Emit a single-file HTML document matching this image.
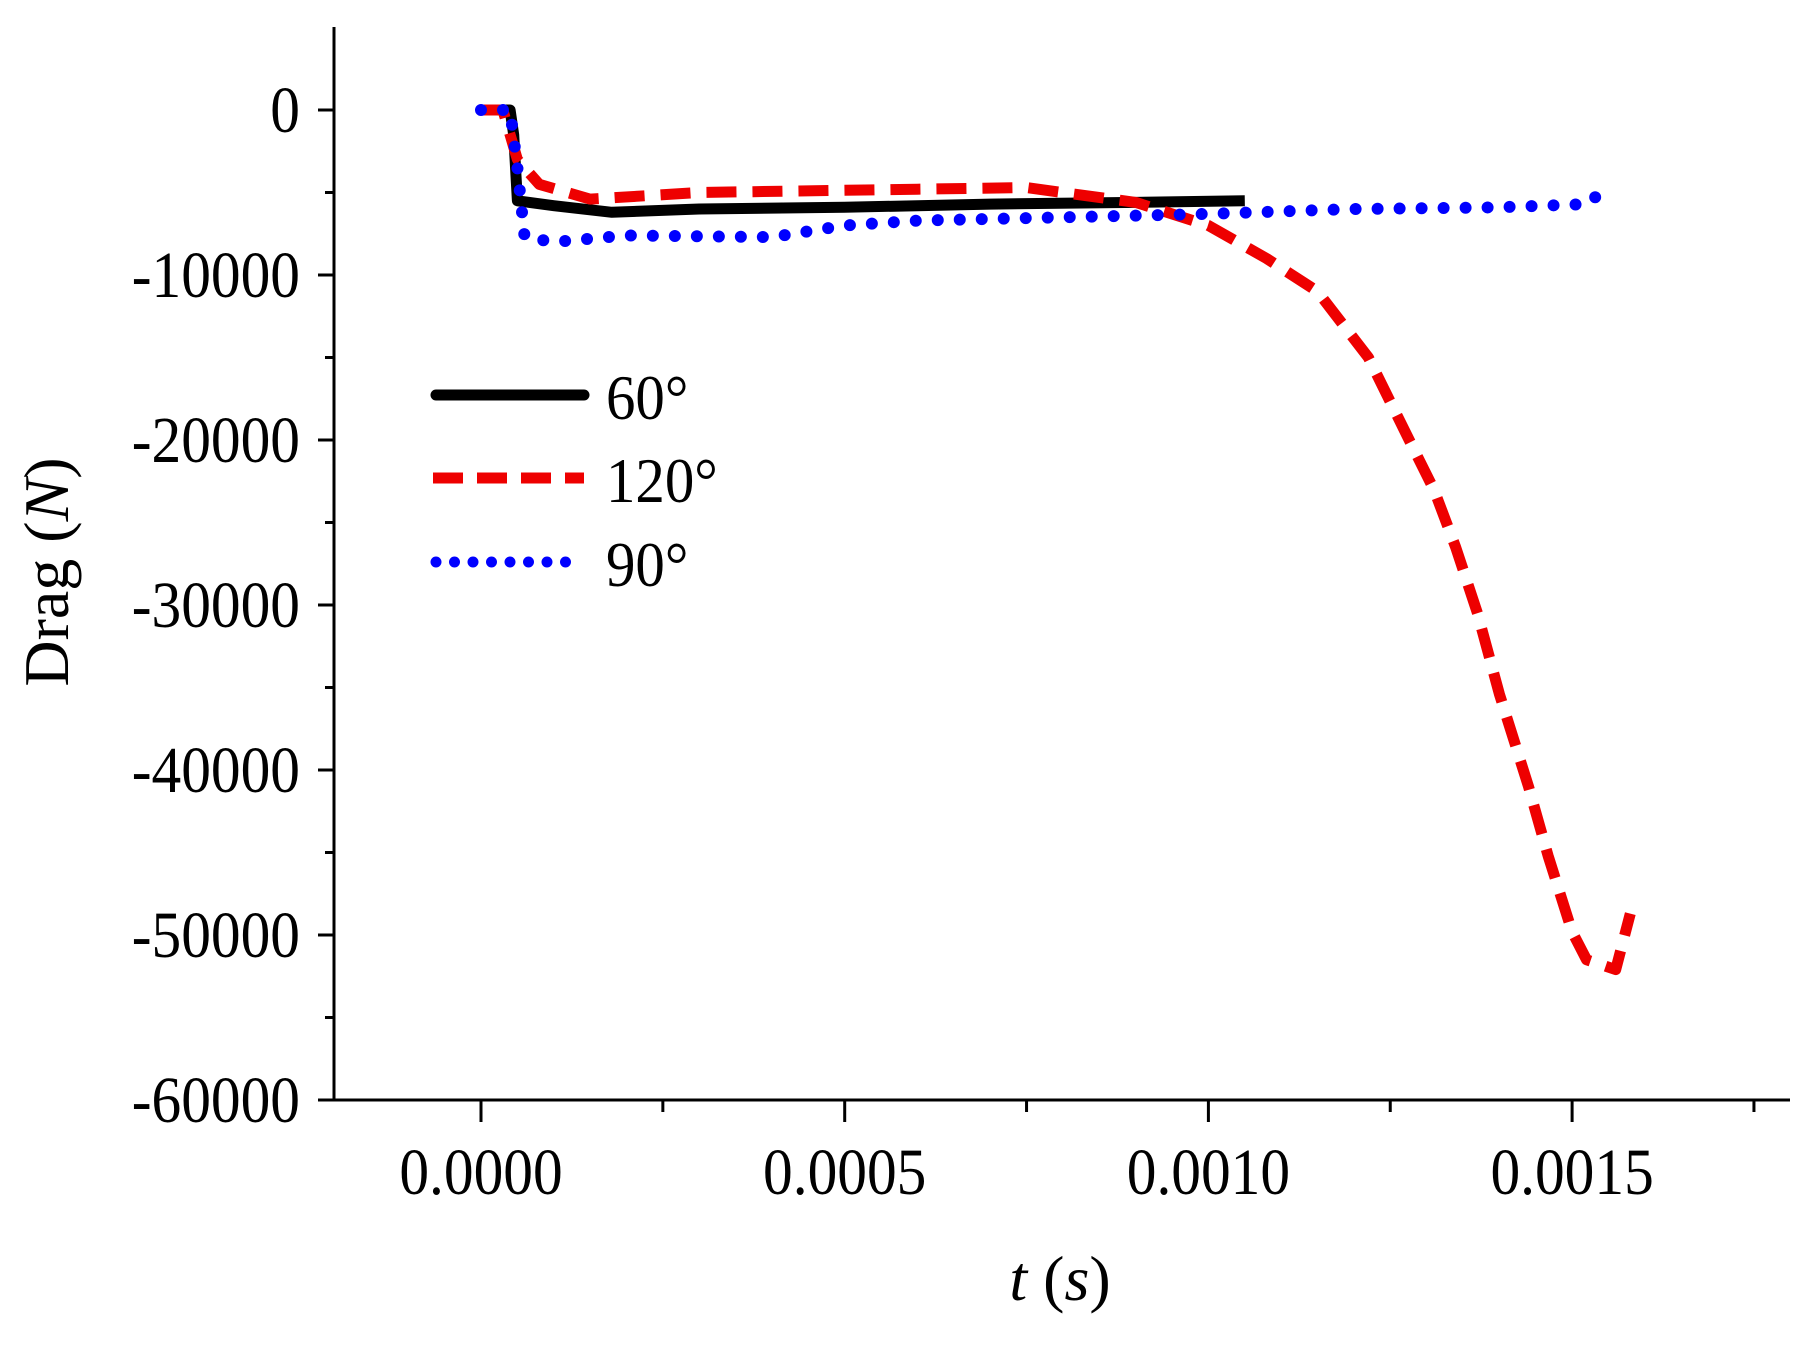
<!DOCTYPE html>
<html><head><meta charset="utf-8"><style>
html,body{margin:0;padding:0;background:#fff;}
svg{display:block;}
text{font-family:"Liberation Serif",serif;fill:#000;}
</style></head><body>
<svg id="s" width="1812" height="1353" viewBox="0 0 1812 1353" xmlns="http://www.w3.org/2000/svg">
<g stroke="#000" stroke-width="3" fill="none">
<line x1="334" y1="27" x2="334" y2="1100"/>
<line x1="318" y1="1100" x2="1790" y2="1100"/>
</g>
<g id="ticks" stroke="#000" stroke-width="3"></g>
<g id="ylab"></g>
<g id="xlab"></g>
<text x="1060" y="1300" font-size="64" text-anchor="middle"><tspan font-style="italic">t</tspan> (<tspan font-style="italic">s</tspan>)</text>
<text transform="translate(68,572) rotate(-90)" font-size="64" text-anchor="middle">Drag (<tspan font-style="italic">N</tspan>)</text>
<g id="series" fill="none"></g>
<g>
<line x1="436" y1="395" x2="584" y2="395" stroke="#000" stroke-width="11" stroke-linecap="round"/>
<line x1="433" y1="478" x2="584" y2="478" stroke="#e00" stroke-width="11" stroke-dasharray="30,14"/>
<line x1="436" y1="562" x2="584" y2="562" stroke="#00f" stroke-width="11" stroke-linecap="round" stroke-dasharray="0,18.5"/>
<text x="606" y="419" font-size="64" transform="translate(606,0) scale(0.92,1) translate(-606,0)">60°</text>
<text x="606" y="502" font-size="64" transform="translate(606,0) scale(0.92,1) translate(-606,0)">120°</text>
<text x="606" y="586" font-size="64" transform="translate(606,0) scale(0.92,1) translate(-606,0)">90°</text>
</g>
</svg>
<script>
var NS="http://www.w3.org/2000/svg";
function X(t){return 481+t/0.0005*363.7;}
function Y(f){return 110-f/10000*165;}
function el(n,a,p){var e=document.createElementNS(NS,n);for(var k in a)e.setAttribute(k,a[k]);document.getElementById(p).appendChild(e);return e;}
for(var i=0;i<=12;i++){var y=Y(-i*5000);var L=(i%2==0)?16:9;el("line",{x1:334-L,y1:y,x2:334,y2:y},"ticks");
 if(i%2==0){var t=el("text",{"font-size":66,"text-anchor":"end",transform:"translate(300,"+(y+22)+") scale(0.9,1)"},"ylab");t.textContent=(i==0?"0":"-"+(i*5000));}}
for(var i=-1;i<=7;i++){var x=X(i*0.00025);if(x<330)continue;var L=(i%2==0)?22:12;el("line",{x1:x,y1:1100,x2:x,y2:1100+L},"ticks");
 if(i%2==0&&i>=0){var t=el("text",{"font-size":66,"text-anchor":"middle",transform:"translate("+x+",1194) scale(0.9,1)"},"xlab");t.textContent=(i*0.00025).toFixed(4);}}
function path(d){return d.map(function(p,i){return (i?"L":"M")+X(p[0]).toFixed(1)+" "+Y(p[1]).toFixed(1);}).join(" ");}
var blk=[[0,0],[0.00004,0],[0.000045,-1500],[0.00005,-5500],[0.0001,-5800],[0.00018,-6200],[0.0003,-6000],[0.0005,-5900],[0.0007,-5700],[0.0009,-5600],[0.00105,-5500]];
var red=[[0,0],[0.00003,0],[0.00005,-3000],[0.00008,-4500],[0.00015,-5400],[0.0003,-5000],[0.0006,-4800],[0.00075,-4700],[0.0009,-5600],[0.001,-7000],[0.00108,-9000],[0.00115,-11000],[0.00122,-15000],[0.001276,-20000],[0.00131,-23000],[0.00134,-26500],[0.00137,-30500],[0.0014,-35400],[0.00144,-41000],[0.001467,-45200],[0.0015,-49800],[0.00152,-51500],[0.00156,-52100],[0.00158,-48700]];
var blu=[[0,0],[0.00004,0],[0.00005,-3500],[0.00006,-7700],[0.0001,-8000],[0.0002,-7600],[0.0004,-7700],[0.0005,-7000],[0.0006,-6700],[0.0008,-6500],[0.001,-6300],[0.0012,-6000],[0.0014,-5900],[0.00152,-5700],[0.00154,-5000]];
el("path",{d:path(blk),stroke:"#000","stroke-width":11,"stroke-linejoin":"round"},"series");
el("path",{d:path(red),stroke:"#e00","stroke-width":11,"stroke-dasharray":"30,16","stroke-linejoin":"round"},"series");
el("path",{d:path(blu),stroke:"#00f","stroke-width":12,"stroke-linecap":"round","stroke-dasharray":"0,22"},"series");
</script>
</body></html>
